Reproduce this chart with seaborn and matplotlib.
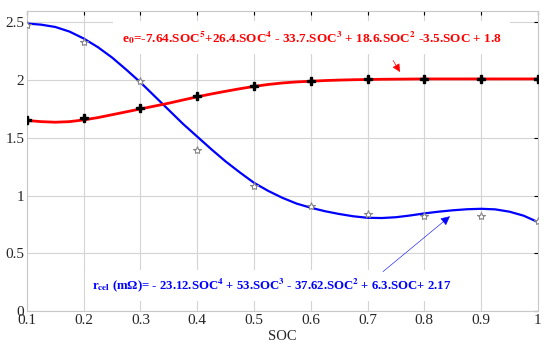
import numpy as np
import pandas as pd
import seaborn as sns
import matplotlib.pyplot as plt

# measured points (markers)
soc = [0.1, 0.2, 0.3, 0.4, 0.5, 0.6, 0.7, 0.8, 0.9, 1.0]
e0_meas = [1.658, 1.672, 1.76, 1.86, 1.945, 1.99, 2.01, 2.01, 2.01, 2.01]
r_meas = [2.48, 2.33, 1.99, 1.39, 1.085, 0.91, 0.84, 0.82, 0.825, 0.775]

# fitted curves
soc_fit = [0.1, 0.125, 0.15, 0.175, 0.2, 0.225, 0.25, 0.275, 0.3, 0.325,
           0.35, 0.375, 0.4, 0.425, 0.45, 0.475, 0.5, 0.525, 0.55, 0.575,
           0.6, 0.625, 0.65, 0.675, 0.7, 0.725, 0.75, 0.775, 0.8, 0.825,
           0.85, 0.875, 0.9, 0.925, 0.95, 0.975, 1.0]
e0_fit = [1.65, 1.64, 1.635, 1.64, 1.655, 1.675, 1.70, 1.725, 1.75, 1.775,
          1.80, 1.828, 1.855, 1.88, 1.903, 1.925, 1.945, 1.962, 1.975, 1.984,
          1.99, 1.996, 2.0, 2.003, 2.005, 2.007, 2.008, 2.009, 2.01, 2.01,
          2.01, 2.01, 2.01, 2.01, 2.01, 2.01, 2.01]
r_fit = [2.49, 2.48, 2.46, 2.42, 2.36, 2.285, 2.195, 2.09, 1.98, 1.86,
         1.74, 1.62, 1.51, 1.40, 1.295, 1.20, 1.11, 1.04, 0.98, 0.93,
         0.894, 0.864, 0.84, 0.82, 0.807, 0.805, 0.812, 0.827, 0.845, 0.86,
         0.872, 0.881, 0.885, 0.88, 0.86, 0.825, 0.77]

xticks = [0.1, 0.2, 0.3, 0.4, 0.5, 0.6, 0.7, 0.8, 0.9, 1.0]
xtick_labels = ["0.1", "0.2", "0.3", "0.4", "0.5", "0.6", "0.7", "0.8", "0.9", "1"]
yticks = [0, 0.5, 1, 1.5, 2, 2.5]
ytick_labels = ["0", "0.5", "1", "1.5", "2", "2.5"]

e0_label = (r"e$_\mathbf{0}$=-7.64.SOC$^\mathbf{5}$+26.4.SOC$^\mathbf{4}$ - 33.7.SOC$^\mathbf{3}$"
            r" + 18.6.SOC$^\mathbf{2}$ -3.5.SOC + 1.8")
r_label = (r"r$_\mathbf{cel}$ (mΩ)= - 23.12.SOC$^\mathbf{4}$ + 53.SOC$^\mathbf{3}$"
           r" - 37.62.SOC$^\mathbf{2}$ + 6.3.SOC+ 2.17")

sns.set_style("white")
plt.rcParams["font.family"] = ["Liberation Serif", "DejaVu Serif"]
plt.rcParams["mathtext.fontset"] = "stix"

fig = plt.figure(figsize=(5.5, 3.49), dpi=100)
ax = fig.add_axes([0.049, 0.109, 0.929, 0.860])

df_fit = pd.DataFrame({"soc": soc_fit, "e0": e0_fit, "r": r_fit})
df_meas = pd.DataFrame({"soc": soc, "e0": e0_meas, "r": r_meas})

sns.lineplot(data=df_fit, x="soc", y="r", color="#0000ff", linewidth=1.6, ax=ax, zorder=3)
sns.lineplot(data=df_fit, x="soc", y="e0", color="#ff0000", linewidth=2, ax=ax, zorder=3)
ax.plot(df_meas["soc"], df_meas["r"], linestyle="none", marker="*", markersize=6,
        markerfacecolor="white", markeredgecolor="#888888", markeredgewidth=0.8, zorder=4)
ax.plot(df_meas["soc"], df_meas["e0"], linestyle="none", marker="P", markersize=6,
        color="black", zorder=4)

ax.set_xlim(0.1, 1.0)
ax.set_ylim(0, 2.6)
ax.set_xticks(xticks)
ax.set_xticklabels(xtick_labels)
ax.set_yticks(yticks)
ax.set_yticklabels(ytick_labels)
ax.set_xlabel("SOC", fontsize=10.5, labelpad=2)
ax.set_ylabel("")
ax.grid(True, color="#d4d4d4", linewidth=0.8)
ax.tick_params(direction="in", length=3, width=0.8, color="black",
               top=True, right=True, labelsize=11, pad=2)
for s in ax.spines.values():
    s.set_color("#c8c8c8")
    s.set_linewidth(0.8)

ax.text(0.267, 2.37, e0_label, color="#ff0000", fontsize=9.5, fontweight="bold",
        va="center", ha="left", bbox=dict(fc="white", ec="none", pad=6), zorder=2)
ax.text(0.214, 0.22, r_label, color="#0000ff", fontsize=9.2, fontweight="bold",
        va="center", ha="left", bbox=dict(fc="white", ec="none", pad=5), zorder=2)

ax.annotate("", xy=(0.757, 2.07), xytext=(0.745, 2.17),
            arrowprops=dict(arrowstyle="-|>", color="#ff0000", lw=0.5,
                            mutation_scale=12, shrinkA=0, shrinkB=0), zorder=5)
ax.annotate("", xy=(0.845, 0.82), xytext=(0.727, 0.34),
            arrowprops=dict(arrowstyle="-|>", color="#0000ff", lw=0.4,
                            mutation_scale=14, shrinkA=0, shrinkB=0), zorder=5)

plt.savefig("out.png", dpi=100)
